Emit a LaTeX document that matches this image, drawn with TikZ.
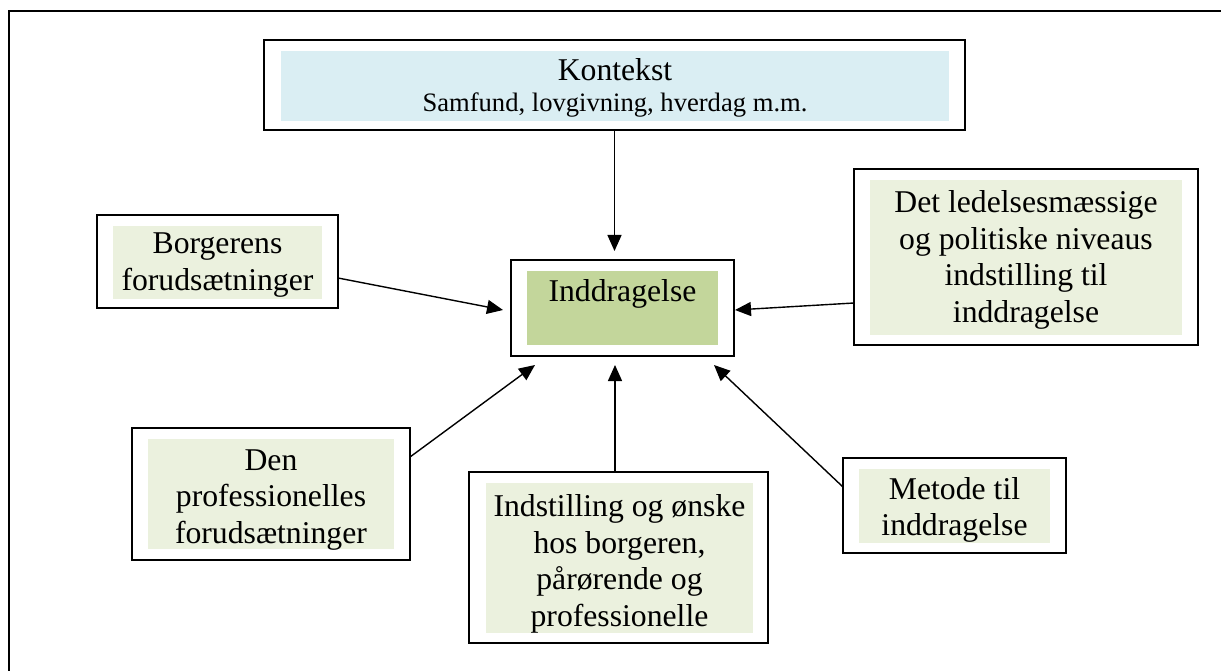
\documentclass[tikz,border=0pt]{standalone}
\usepackage{fontspec}
\setmainfont{Liberation Serif}
\usetikzlibrary{arrows.meta,calc}
\definecolor{kblue}{HTML}{DAEEF3}
\definecolor{igreen}{HTML}{C3D69B}
\definecolor{lgreen}{HTML}{EBF1DE}
\tikzset{
  obox/.style={draw=black, line width=1.5pt, fill=white, inner sep=0pt, outer sep=0pt},
  ibox/.style={fill=#1, inner sep=0pt, outer sep=0pt},
  txt/.style={font=\fontsize{31.7}{36.5}\selectfont, align=center, inner sep=0pt},
  subtxt/.style={font=\fontsize{26.6}{30}\selectfont, inner sep=0pt},
  arr/.style={line width=1.4pt, -{Triangle[length=16pt,width=14pt]}},
  frame/.style={line width=2pt}
}
\begin{document}
\begin{tikzpicture}[x=1pt,y=-1pt]
\useasboundingbox (0,0) rectangle (1221,671);
% outer frame
\draw[frame] (9,671) -- (9,11) -- (1221,11);

% Kontekst
\node[obox, minimum width=701pt, minimum height=90pt] (k) at (614.5,85) {};
\node[ibox=kblue, minimum width=668pt, minimum height=70pt] (kf) at (615,86) {};
\node[txt, anchor=base] (kt) at (615,81) {Kontekst};
\node[subtxt, anchor=base] (ks) at (615,112) {Samfund, lovgivning, hverdag m.m.};

% Inddragelse
\node[obox, minimum width=223pt, minimum height=96pt] (i) at (622.5,308) {};
\node[ibox=igreen, minimum width=191pt, minimum height=74pt] (if) at (622.5,308) {};
\node[txt, anchor=base] (it) at (622.5,301) {Inddragelse};

% Borgerens
\node[obox, minimum width=241pt, minimum height=93pt] (b) at (217.5,261.5) {};
\node[ibox=lgreen, minimum width=209pt, minimum height=73pt] (bf) at (217.5,262.5) {};
\node[txt] (bt) at (217.5,265) {Borgerens\\forudsætninger};

% Det ledelsesmaessige
\node[obox, minimum width=344pt, minimum height=176pt] (d) at (1026,257) {};
\node[ibox=lgreen, minimum width=312pt, minimum height=155pt] (df) at (1026,257.5) {};
\node[txt] (dt) at (1026,260) {Det ledelsesmæssige\\og politiske niveaus\\indstilling til\\inddragelse};

% Den professionelles
\node[obox, minimum width=278pt, minimum height=132pt] (p) at (271,494) {};
\node[ibox=lgreen, minimum width=246pt, minimum height=110pt] (pf) at (271,494) {};
\node[txt] (pt) at (271,500) {Den\\professionelles\\forudsætninger};

% Indstilling
\node[obox, minimum width=299pt, minimum height=171pt] (s) at (618.5,557.5) {};
\node[ibox=lgreen, minimum width=267pt, minimum height=150pt] (sf) at (619.5,558) {};
\node[txt] (st) at (619.5,564) {Indstilling og ønske\\hos borgeren,\\pårørende og\\professionelle};

% Metode
\node[obox, minimum width=223pt, minimum height=95pt] (m) at (954.5,505.5) {};
\node[ibox=lgreen, minimum width=191pt, minimum height=74pt] (mf) at (954.5,506) {};
\node[txt] (mt) at (954.5,510) {Metode til\\inddragelse};

% arrows
\draw[arr] (k.south) -- ($(i.north)+(-8,-9)$);
\draw[arr] ($(b.east)+(0,16.5)$) -- ($(i.west)+(-8,2)$);
\draw[arr] ($(d.west)+(0,46)$) -- ($(i.east)+(1,2)$);
\draw[arr] ($(p.east)+(0,-37)$) -- ($(i.south west)+(24,9)$);
\draw[arr] ($(s.north)+(-3.5,0)$) -- ($(i.south)+(-7.5,9)$);
\draw[arr] ($(m.west)+(0,-18.5)$) -- ($(i.south east)+(-20,9)$);
\end{tikzpicture}
\end{document}
